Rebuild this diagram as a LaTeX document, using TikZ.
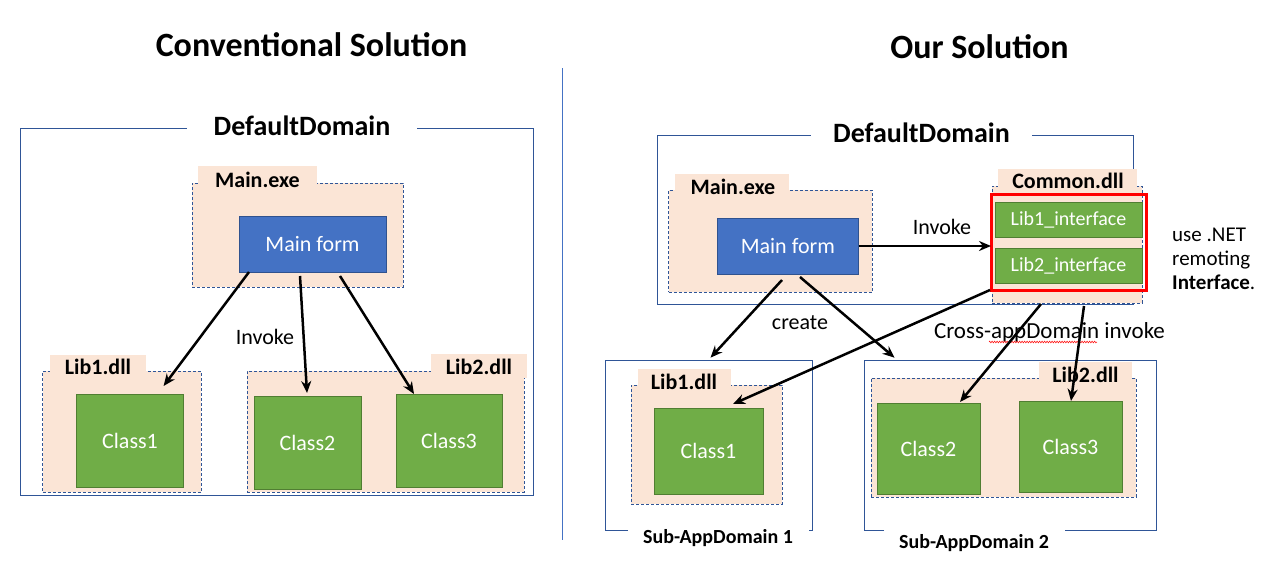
\documentclass[tikz,border=0pt]{standalone}
\usepackage{fontspec}
\setmainfont{Carlito}
\usetikzlibrary{arrows.meta,fit,decorations.pathmorphing}
\definecolor{peach}{HTML}{FBE5D6}
\definecolor{dashblue}{HTML}{2F5597}
\definecolor{frameblue}{HTML}{2F5597}
\definecolor{formblue}{HTML}{4472C4}
\definecolor{formedge}{HTML}{2F528F}
\definecolor{cgreen}{HTML}{70AD47}
\definecolor{gedge}{HTML}{507E32}
\begin{document}
\begin{tikzpicture}[x=1pt,y=-1pt,
  region/.style={inner sep=0pt, outer sep=0pt},
  dllbox/.style={region, fill=peach, draw=dashblue, line width=0.8pt, dash pattern=on 3pt off 2pt},
  tabbox/.style={region, fill=peach},
  tabtext/.style={inner sep=0pt, font=\bfseries\fontsize{22}{24}\selectfont},
  intext/.style={inner sep=0pt, text=white, font=\fontsize{22}{24}\selectfont},
  smalltext/.style={inner sep=0pt, text=white, font=\fontsize{20}{22}\selectfont},
  formbox/.style={region, fill=formblue, draw=formedge, line width=1pt},
  classbox/.style={region, fill=cgreen, draw=gedge, line width=1pt},
  frame/.style={draw=frameblue, line width=0.9pt},
  arr/.style={-{Stealth[length=12pt,width=10pt]}, line width=2.5pt},
  lbl/.style={inner sep=0pt, font=\fontsize{22}{24}\selectfont},
  ttl/.style={inner sep=0pt, font=\bfseries\fontsize{34}{36}\selectfont},
  domttl/.style={inner sep=0pt, font=\bfseries\fontsize{28}{30}\selectfont},
  subttl/.style={inner sep=0pt, font=\bfseries\fontsize{20}{22}\selectfont},
]
\useasboundingbox (0,0) rectangle (1276,568);

% ---------- titles and separator ----------
\node[ttl] (t1) at (311.5,45) {Conventional Solution};
\node[ttl] (t2) at (979.5,47) {Our Solution};
\coordinate (sepT) at (562,68);
\coordinate (sepB) at (562,540);
\draw[draw=formblue, line width=0.8pt] (sepT) -- (sepB);

% ================= LEFT =================
\node[region, fit={(20,128) (533,495)}] (dd1) {};
\node[domttl, minimum width=230] (dd1t) at (302,126) {DefaultDomain};
\draw[frame] (dd1t.west |- dd1.north) -- (dd1.north west) -- (dd1.south west)
  -- (dd1.south east) -- (dd1.north east) -- (dd1t.east |- dd1.north);

\node[dllbox, fit={(192,183) (403,287)}] (exe1) {};
\node[tabbox, fit={(198,166) (317,190)}] (exe1tab) {};
\node[tabtext] (exe1l) at (257.5,180) {Main.exe};
\node[formbox, fit={(239,216) (386,272)}, label={[intext]center:Main form}] (form1) {};

\node[dllbox, fit={(42.5,371) (201,492)}] (lib1a) {};
\node[tabbox, fit={(50,355) (146,378)}] (lib1atab) {};
\node[tabtext] (lib1al) at (98,367) {Lib1.dll};
\node[classbox, fit={(76.5,394) (183.6,487)}, label={[intext]center:Class1}] (c1a) {};

\node[dllbox, fit={(247,371) (524,492)}] (lib2a) {};
\node[tabbox, fit={(431,354) (527,378)}] (lib2atab) {};
\node[tabtext] (lib2al) at (479,367) {Lib2.dll};
\node[classbox, fit={(254,396) (361,489)}, label={[intext]center:Class2}] (c2a) {};
\node[classbox, fit={(396,394) (502,487)}, label={[intext]center:Class3}] (c3a) {};

\node[lbl] (inv1) at (265,337) {Invoke};

\draw[arr] ([xshift=10]form1.south west) -- ([shift={(-20,-8)}]c1a.north east);
\draw[arr] ([shift={(61,4)}]form1.south west) -- ([shift={(53,-3)}]c2a.north west);
\draw[arr] ([shift={(101,4)}]form1.south west) -- ([shift={(18,0)}]c3a.north west);

% ================= RIGHT =================
\node[region, fit={(657.6,135) (1133.8,304)}] (dd2) {};
\node[domttl, minimum width=221] (dd2t) at (921.5,133) {DefaultDomain};
\draw[frame] (dd2t.west |- dd2.north) -- (dd2.north west) -- (dd2.south west)
  -- (dd2.south east) -- (dd2.north east) -- (dd2t.east |- dd2.north);

\node[dllbox, fit={(668.5,190) (872,292)}] (exe2) {};
\node[tabbox, fit={(675,174) (789,196)}] (exe2tab) {};
\node[tabtext] (exe2l) at (733,187) {Main.exe};
\node[formbox, fit={(717,218) (858.7,274)}, label={[intext]center:Main form}] (form2) {};

\node[dllbox, fit={(992,186) (1142,303)}] (common) {};
\node[tabbox, fit={(998,169) (1137,191)}] (commontab) {};
\node[tabtext] (commonl) at (1068,181) {Common.dll};
\node[classbox, fit={(995,202) (1142,237)}, label={[smalltext]center:Lib1\_interface}] (if1) {};
\node[classbox, fit={(995,248) (1142,283)}, label={[smalltext]center:Lib2\_interface}] (if2) {};
\node[region, draw=red, line width=3pt, fit={(991,194) (1146,290)}] (redbox) {};

\node[lbl, anchor=west, align=left, font=\fontsize{21}{24}\selectfont] (note) at (1172,259)
  {use .NET\\remoting\\\textbf{Interface}.};

% Sub-AppDomain 1
\node[region, fit={(605,360.7) (812,530.7)}] (sa1) {};
\draw[frame] ([xshift=23]sa1.south west) -- (sa1.south west) -- (sa1.north west)
  -- (sa1.north east) -- (sa1.south east) -- ([xshift=-3]sa1.south east);
\node[subttl] (sa1l) at (718,538) {Sub-AppDomain 1};

\node[dllbox, fit={(631,385) (782,504)}] (lib1b) {};
\node[tabbox, fit={(638,369) (731,392)}] (lib1btab) {};
\node[tabtext] (lib1bl) at (684,382) {Lib1.dll};
\node[classbox, fit={(654,408) (763,494)}, label={[intext]center:Class1}] (c1b) {};

% Sub-AppDomain 2
\node[region, fit={(864,360.7) (1156,530.7)}] (sa2) {};
\draw[frame] ([xshift=20]sa2.south west) -- (sa2.south west) -- (sa2.north west)
  -- (sa2.north east) -- (sa2.south east) -- ([xshift=-91.5]sa2.south east);
\node[subttl] (sa2l) at (974,543) {Sub-AppDomain 2};

\node[dllbox, fit={(871,378) (1136,497)}] (lib2b) {};
\node[tabbox, fit={(1039,362) (1132,385)}] (lib2btab) {};
\node[tabtext] (lib2bl) at (1085.5,375) {Lib2.dll};
\node[classbox, fit={(877,403) (980,494)}, label={[intext]center:Class2}] (c2b) {};
\node[classbox, fit={(1019,401) (1122,492)}, label={[intext]center:Class3}] (c3b) {};

% labels
\node[lbl] (inv2) at (942,227) {Invoke};
\node[lbl] (create) at (800,323) {create};
\node[lbl, font=\fontsize{23}{25}\selectfont] (cross) at (1049.5,332) {Cross-appDomain invoke};
\coordinate (wavyA) at (989,342);
\coordinate (wavyB) at (1097,342);
\draw[red, line width=0.5pt, decorate, decoration={zigzag, amplitude=0.9pt, segment length=2.5pt}] (wavyA) -- (wavyB);

% arrows
\draw[arr] (form2.east) -- (form2.east -| redbox.west);
\draw[arr] ([shift={(65,6)}]form2.south west) -- ([shift={(2,-3)}]sa1.north);
\draw[arr] ([shift={(83,3)}]form2.south west) -- ([shift={(30.6,-3)}]sa2.north west);
\draw[arr] ([shift={(-1,0)}]redbox.south west) -- ([shift={(79,-4)}]c1b.north west);
\draw[arr] ([shift={(49,1)}]common.south west) -- ([shift={(-20,-1)}]c2b.north east);
\draw[arr] ([shift={(92,3)}]common.south west) -- ([shift={(52,0)}]c3b.north west);

\end{tikzpicture}
\end{document}
